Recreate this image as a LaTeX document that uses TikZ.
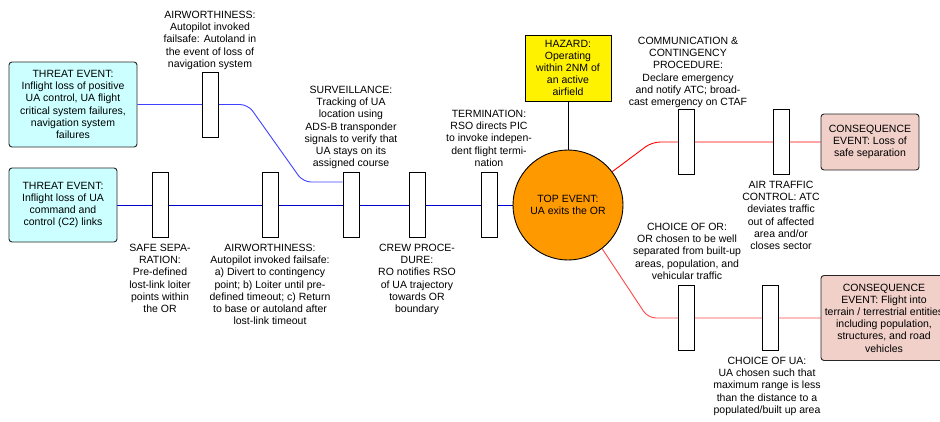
\documentclass[tikz,border=0pt]{standalone}
\usepackage{fontspec}
\setmainfont{Liberation Sans}
\usetikzlibrary{backgrounds}
\definecolor{threatfill}{RGB}{204,255,255}
\definecolor{consfill}{RGB}{240,208,200}
\definecolor{toporange}{RGB}{255,153,0}
\definecolor{blueA}{RGB}{64,64,255}
\definecolor{blueB}{RGB}{0,0,204}
\definecolor{redA}{RGB}{255,0,0}
\definecolor{redB}{RGB}{255,70,70}
\begin{document}
\begin{tikzpicture}[x=1pt,y=-1pt,
  txt/.style={font=\fontsize{10.5}{12.2}\selectfont, align=center, inner sep=0pt},
  lbl/.style={txt, anchor=north},
  threatbox/.style={txt, draw=black!85, line width=0.9pt, fill=threatfill, rounded corners=3pt},
  consbox/.style={txt, draw=black!85, line width=0.9pt, fill=consfill, rounded corners=3pt},
  barrier/.style={draw=black, line width=0.9pt, fill=white, minimum width=16pt, minimum height=65pt, inner sep=0pt},
  conn/.style={line width=0.9pt, rounded corners=8pt}
]
\useasboundingbox (0,0) rectangle (940,421);
\clip (0,0) rectangle (940,421);

% main boxes
\node[threatbox, minimum width=128pt, minimum height=85pt] (t1) at (73,104.5) {THREAT EVENT:\\Inflight loss of positive\\UA control, UA flight\\critical system failures,\\navigation system\\failures};
\node[threatbox, minimum width=108pt, minimum height=74pt] (t2) at (63,205) {THREAT EVENT:\\Inflight loss of UA\\command and\\control (C2) links};
\node[txt, draw=black, line width=0.9pt, fill=yellow, minimum width=86pt, minimum height=66pt] (haz) at (568,68) {HAZARD:\\Operating\\within 2NM of\\an active\\airfield};
\node[txt, circle, draw=black, line width=0.9pt, fill=toporange, minimum size=110pt] (top) at (568,205) {TOP EVENT:\\UA exits the OR};
\node[consbox, minimum width=98pt, minimum height=56pt] (c1) at (870,142) {CONSEQUENCE\\EVENT: Loss of\\safe separation};
\node[consbox, minimum width=126pt, minimum height=85pt] (c2) at (884,318) {CONSEQUENCE\\EVENT: Flight into\\terrain / terrestrial entities\\including population,\\structures, and road\\vehicles};

% barriers
\node[barrier] (baw1) at (210,104.5) {};
\node[barrier] (bss) at (160,205) {};
\node[barrier] (baw2) at (270,205) {};
\node[barrier] (bsurv) at (351,205) {};
\node[barrier] (bcrew) at (417,205) {};
\node[barrier] (bterm) at (489,205) {};
\node[barrier] (bcomm) at (686,142) {};
\node[barrier] (batc) at (781,142) {};
\node[barrier] (bor) at (686,318) {};
\node[barrier] (bua) at (770,318) {};

% connectors
\coordinate (u1) at (248,104.5);
\coordinate (u2) at (303,182);
\coordinate (r1) at (652,142);
\coordinate (r2) at (648,318);
\begin{pgfonlayer}{background}
\draw[conn, blueA] (t1.east) -- (u1) -- (u2) -- (bsurv.west |- u2);
\draw[conn, blueB] (t2.east) -- (top.west);
\draw[line width=0.9pt, black] (haz.south) -- (top.north);
\draw[conn, redA] (top.37) -- (r1) -- (c1.west);
\draw[conn, redB] (top.-52) -- (r2) -- (c2.west);
\end{pgfonlayer}

% labels
\node[lbl] (law1) at (210,11) {AIRWORTHINESS:\\Autopilot invoked\\failsafe: Autoland in\\the event of loss of\\navigation system};
\node[lbl] (lsurv) at (351,86) {SURVEILLANCE:\\Tracking of UA\\location using\\ADS-B transponder\\signals to verify that\\UA stays on its\\assigned course};
\node[lbl] (lterm) at (489,110) {TERMINATION:\\RSO directs PIC\\to invoke indepen-\\dent flight termi-\\nation};
\node[lbl] (lcomm) at (688,37) {COMMUNICATION \&\\CONTINGENCY\\PROCEDURE:\\Declare emergency\\and notify ATC; broad-\\cast emergency on CTAF};
\node[lbl] (lss) at (160,244) {SAFE SEPA-\\RATION:\\Pre-defined\\lost-link loiter\\points within\\the OR};
\node[lbl] (law2) at (270,244) {AIRWORTHINESS:\\Autopilot invoked failsafe:\\a) Divert to contingency\\point; b) Loiter until pre-\\defined timeout; c) Return\\to base or autoland after\\lost-link timeout};
\node[lbl] (lcrew) at (417,244) {CREW PROCE-\\DURE:\\RO notifies RSO\\of UA trajectory\\towards OR\\boundary};
\node[lbl] (latc) at (781,181) {AIR TRAFFIC\\CONTROL: ATC\\deviates traffic\\out of affected\\area and/or\\closes sector};
\node[lbl] (lor) at (687,223) {CHOICE OF OR:\\OR chosen to be well\\separated from built-up\\areas, population, and\\vehicular traffic};
\node[lbl] (lua) at (767,357) {CHOICE OF UA:\\UA chosen such that\\maximum range is less\\than the distance to a\\populated/built up area};
\end{tikzpicture}
\end{document}
